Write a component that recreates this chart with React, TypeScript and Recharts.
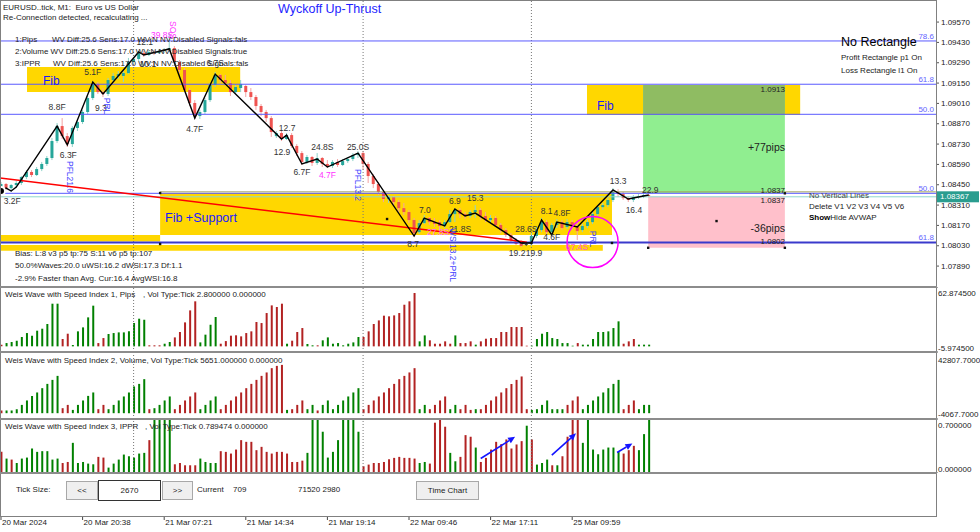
import React from 'react';
import { ComposedChart, Bar, Line, XAxis, YAxis, ReferenceLine, ReferenceArea, ReferenceDot, Cell } from 'recharts';

const FONT = '"Liberation Sans", Arial, sans-serif';

// ---------- price candles (tick bars, 2670 ticks) ----------
const candleOpen = [
  1.08427, 1.08455, 1.08427, 1.08448, 1.08462, 1.08503, 1.08538, 1.08517, 1.08558, 1.08593,
  1.08634, 1.08751, 1.08854, 1.08785, 1.0873, 1.08841, 1.08882, 1.08951, 1.09047, 1.09144,
  1.09088, 1.09075, 1.09171, 1.09199, 1.09199, 1.09219, 1.09295, 1.09316, 1.09357, 1.09343,
  1.09364, 1.09357, 1.09371, 1.09378, 1.09391, 1.09295, 1.0924, 1.09102, 1.09013, 1.08923,
  1.08951, 1.09033, 1.09137, 1.09206, 1.09171, 1.0915, 1.09088, 1.09116, 1.0913, 1.09088,
  1.09054, 1.08992, 1.08951, 1.08909, 1.08785, 1.08806, 1.08765, 1.08792, 1.08717, 1.08668,
  1.08607, 1.08641, 1.086, 1.08634, 1.08593, 1.08579, 1.08607, 1.08586, 1.08613, 1.08627,
  1.08655, 1.08668, 1.08593, 1.0851, 1.08455, 1.084, 1.08352, 1.08365, 1.08331, 1.08289,
  1.08262, 1.08207, 1.08124, 1.08186, 1.08221, 1.08193, 1.08193, 1.08166, 1.08193, 1.08248,
  1.08276, 1.08248, 1.08235, 1.08262, 1.08276, 1.08235, 1.08207, 1.08221, 1.08173, 1.08138,
  1.08104, 1.08069, 1.08049, 1.08042, 1.08042, 1.08097, 1.08138, 1.08193, 1.08124, 1.08173,
  1.08193, 1.08159, 1.08193, 1.08159, 1.08138, 1.08166, 1.08193, 1.08248, 1.08296, 1.0831,
  1.08345, 1.084, 1.08386, 1.08358, 1.08345, 1.08365, 1.08372, 1.08379,
];
const candleHigh = [
  1.08469, 1.08462, 1.08455, 1.08476, 1.0851, 1.08551, 1.08551, 1.08572, 1.08607, 1.08648,
  1.08772, 1.08875, 1.08909, 1.08806, 1.08854, 1.08896, 1.08965, 1.09061, 1.09164, 1.09157,
  1.09116, 1.09185, 1.09219, 1.09233, 1.0924, 1.09323, 1.0933, 1.09371, 1.09371, 1.09378,
  1.09378, 1.09385, 1.09391, 1.09495, 1.09405, 1.09309, 1.09254, 1.09116, 1.09033, 1.08965,
  1.09047, 1.0915, 1.09226, 1.09212, 1.09206, 1.09171, 1.09137, 1.09171, 1.09137, 1.09116,
  1.09068, 1.09006, 1.08965, 1.08923, 1.0882, 1.0882, 1.08806, 1.08806, 1.0873, 1.08682,
  1.08655, 1.08648, 1.08668, 1.08641, 1.0862, 1.0862, 1.08627, 1.08627, 1.08641, 1.08668,
  1.08682, 1.08682, 1.08607, 1.08524, 1.08469, 1.08414, 1.08379, 1.08372, 1.08345, 1.08324,
  1.08276, 1.08221, 1.08207, 1.08242, 1.08228, 1.08221, 1.08207, 1.08207, 1.08276, 1.08289,
  1.08289, 1.08262, 1.08276, 1.0831, 1.08289, 1.08262, 1.08242, 1.08235, 1.08186, 1.08152,
  1.08117, 1.08083, 1.08069, 1.08055, 1.08117, 1.08159, 1.08221, 1.08207, 1.08186, 1.08214,
  1.08207, 1.08214, 1.08207, 1.08193, 1.0818, 1.08207, 1.08262, 1.0831, 1.08324, 1.08358,
  1.08427, 1.0842, 1.084, 1.08372, 1.08379, 1.08386, 1.08393, 1.08393,
];
const candleLow = [
  1.084, 1.08414, 1.084, 1.08427, 1.08448, 1.08489, 1.08503, 1.0851, 1.08544, 1.08579,
  1.0862, 1.08737, 1.08765, 1.0871, 1.0871, 1.0882, 1.08868, 1.08937, 1.09033, 1.09075,
  1.09054, 1.09061, 1.09157, 1.09178, 1.09157, 1.09212, 1.09281, 1.09302, 1.0933, 1.09336,
  1.09343, 1.0935, 1.09357, 1.09364, 1.09281, 1.09219, 1.09088, 1.08992, 1.08903, 1.08903,
  1.08937, 1.0902, 1.09123, 1.0915, 1.0913, 1.09061, 1.09075, 1.09088, 1.09054, 1.09033,
  1.08965, 1.08923, 1.08882, 1.08779, 1.08772, 1.08751, 1.08758, 1.08703, 1.08648, 1.08586,
  1.08593, 1.08579, 1.08586, 1.08572, 1.08565, 1.08565, 1.08572, 1.08579, 1.086, 1.08613,
  1.08634, 1.08551, 1.08462, 1.08427, 1.08379, 1.08331, 1.08324, 1.0831, 1.08262, 1.08242,
  1.08186, 1.0809, 1.08111, 1.0818, 1.08173, 1.08159, 1.08138, 1.08152, 1.08186, 1.08193,
  1.08221, 1.08214, 1.08221, 1.08221, 1.08207, 1.08193, 1.08186, 1.08159, 1.08117, 1.0809,
  1.08049, 1.08035, 1.08021, 1.08028, 1.08028, 1.08083, 1.08124, 1.08111, 1.08097, 1.08152,
  1.08138, 1.08145, 1.08138, 1.08069, 1.08124, 1.08152, 1.0818, 1.08235, 1.08276, 1.08296,
  1.08331, 1.08365, 1.08345, 1.08331, 1.08331, 1.08352, 1.08358, 1.08365,
];
const candleClose = [
  1.08455, 1.08427, 1.08448, 1.08462, 1.08503, 1.08538, 1.08517, 1.08558, 1.08593, 1.08634,
  1.08751, 1.08854, 1.08785, 1.0873, 1.08841, 1.08882, 1.08951, 1.09047, 1.09144, 1.09088,
  1.09075, 1.09171, 1.09199, 1.09212, 1.09219, 1.09295, 1.09316, 1.09357, 1.09343, 1.09364,
  1.09357, 1.09371, 1.09378, 1.09391, 1.09295, 1.0924, 1.09102, 1.09013, 1.08923, 1.08951,
  1.09033, 1.09137, 1.09206, 1.09171, 1.0915, 1.09088, 1.09123, 1.09144, 1.09088, 1.09054,
  1.08992, 1.08951, 1.08909, 1.08813, 1.08806, 1.08765, 1.08792, 1.08717, 1.08668, 1.08607,
  1.08641, 1.086, 1.08634, 1.08593, 1.08579, 1.08607, 1.08586, 1.08613, 1.08627, 1.08655,
  1.08668, 1.08593, 1.0851, 1.08455, 1.084, 1.08352, 1.08365, 1.08331, 1.08289, 1.08262,
  1.08207, 1.08117, 1.08186, 1.08221, 1.08193, 1.0818, 1.08166, 1.08193, 1.08248, 1.08276,
  1.08248, 1.08235, 1.08262, 1.08276, 1.08235, 1.08207, 1.08221, 1.08173, 1.08138, 1.08104,
  1.08069, 1.08042, 1.08028, 1.08042, 1.08097, 1.08138, 1.08193, 1.08124, 1.08173, 1.08193,
  1.08152, 1.08193, 1.08159, 1.08131, 1.08166, 1.08193, 1.08248, 1.08296, 1.0831, 1.08345,
  1.084, 1.08386, 1.08358, 1.08345, 1.08365, 1.08372, 1.08379, 1.08372,
];

// ---------- zigzag pivots ----------
const zigIndex = [0, 1, 2, 3, 11, 13, 18, 20, 27, 28, 33, 38, 42, 55, 56, 59, 62, 64, 70, 81, 83, 87, 89, 91, 93, 102, 104, 106, 108, 109, 113, 120, 123, 127];
const zigPrice = [1.08407, 1.08427, 1.08407, 1.08434, 1.08854, 1.08724, 1.09157, 1.09075, 1.09364, 1.09343, 1.09385, 1.08909, 1.09212, 1.08765, 1.08792, 1.08593, 1.08627, 1.08572, 1.08668, 1.08097, 1.08221, 1.08166, 1.08283, 1.08235, 1.08255, 1.08049, 1.08049, 1.08207, 1.08104, 1.08193, 1.08159, 1.08414, 1.08352, 1.08379];

// ---------- Weis wave panels ----------
const pipsValues = [
  1.8, 3.5, 4.6, 6.0, 9.9, 14.1, 11.3, 16.6, 18.7, 23.7,
  45.2, 45.2, 7.8, 13.4, 1.4, 15.9, 20.1, 30.7, 43.1, 3.5,
  8.8, 13.1, 14.1, 14.8, 14.8, 15.9, 24.7, 29.3, 28.2, 1.1,
  1.1, 1.1, 2.8, 4.6, 9.5, 15.2, 25.4, 38.1, 47.7, 4.2,
  12.4, 22.9, 31.1, 2.8, 5.6, 11.3, 11.7, 10.6, 14.1, 15.9,
  25.8, 24.7, 35.3, 43.4, 41.7, 45.2, 2.8, 6.0, 15.2, 19.4,
  2.5, 1.1, 1.1, 6.4, 9.5, 2.8, 3.5, 1.1, 2.8, 4.2,
  9.9, 9.9, 15.9, 23.7, 27.5, 32.5, 31.8, 32.8, 35.3, 44.1,
  47.7, 56.5, 5.3, 11.6, 6.4, 2.8, 2.8, 5.3, 2.8, 11.6,
  3.5, 3.5, 5.3, 1.8, 5.3, 8.1, 8.8, 8.8, 15.2, 15.2,
  20.5, 20.5, 20.5, 0.7, 0.7, 7.8, 13.4, 15.2, 8.8, 7.8,
  3.5, 3.5, 0.7, 3.5, 1.8, 1.8, 7.8, 15.2, 15.2, 15.9,
  19.4, 26.5, 2.8, 5.3, 7.8, 1.8, 1.8, 1.8,
];
const pipsDirs = 'rggggggggg' + 'ggrrgggggr' + 'rggggggggr' + 'rrggrrrrrg' + 'gggrrrrrrr' + 'rrrrrrgrrr' + 'ggrggggggg' + 'grrrrrrrrr' + 'rrggrrrrrg' + 'rrrgrrrrrr' + 'rrrrgggggg' + 'gggrgggggg' + 'ggrrrggg';

const volumeValues = [
  1900, 1900, 1900, 2800, 5800, 8900, 12100, 14500, 17500, 20500,
  23300, 26100, 3500, 5800, 2300, 5800, 8900, 12100, 14500, 2800,
  5800, 2800, 5800, 8900, 11700, 14500, 18700, 20500, 23800, 2800,
  3500, 5800, 8900, 11700, 2800, 5800, 8900, 11700, 14500, 2800,
  5800, 8900, 11700, 2800, 5800, 8900, 11700, 14500, 17500, 20500,
  23300, 26100, 28500, 31500, 33100, 33800, 2300, 2800, 5800, 8900,
  2800, 5800, 1900, 5800, 8900, 2800, 5800, 8900, 11700, 14500,
  17500, 2800, 5800, 8900, 11700, 14500, 17500, 20500, 23800, 26100,
  28500, 31500, 2800, 5800, 2800, 5800, 8900, 11700, 2800, 5800,
  2800, 5800, 2300, 2800, 2800, 5800, 8900, 11700, 14500, 17500,
  20500, 23300, 25700, 2800, 2300, 2800, 5800, 8900, 2800, 2800,
  2800, 5800, 8900, 11700, 2800, 5800, 8900, 11700, 14500, 17500,
  20500, 23300, 2800, 5800, 8900, 2800, 5800, 5800,
];
const volumeDirs = 'rggggggggg' + 'ggrrgggggr' + 'rggggggggr' + 'ggggrrrrrg' + 'gggrrrrrrr' + 'rrrrrrgrrr' + 'ggrggggggg' + 'grrrrrrrrr' + 'rrggrrrrgg' + 'rrrgrrrrrr' + 'rrrrgggggg' + 'grrrgggggg' + 'ggrrrggg';

const ipprValues = [
  0.274, 0.187, 0.174, 0.13, 0.187, 0.2, 0.317, 0.274, 0.283, 0.283,
  0.174, 0.187, 0.13, 0.143, 0.391, 0.13, 0.143, 0.122, 0.113, 0.209,
  0.2, 0.07, 0.122, 0.174, 0.239, 0.217, 0.2, 0.252, 0.261, 0.426,
  0.85, 0.9, 0.9, 0.85, 0.113, 0.13, 0.1, 0.1, 0.1, 0.187,
  0.143, 0.13, 0.13, 0.283, 0.274, 0.252, 0.304, 0.426, 0.404, 0.404,
  0.296, 0.339, 0.274, 0.252, 0.274, 0.274, 0.252, 0.143, 0.143, 0.16,
  0.261, 0.9, 0.9, 0.535, 0.2, 0.274, 0.426, 0.9, 0.9, 0.9,
  0.535, 0.087, 0.109, 0.13, 0.13, 0.143, 0.178, 0.196, 0.209, 0.196,
  0.196, 0.187, 0.13, 0.143, 0.122, 0.652, 0.75, 0.6, 0.261, 0.152,
  0.209, 0.491, 0.47, 0.33, 0.143, 0.196, 0.304, 0.404, 0.374, 0.435,
  0.317, 0.37, 0.413, 0.613, 0.435, 0.109, 0.13, 0.174, 0.1, 0.1,
  0.217, 0.47, 0.8, 0.8, 0.391, 0.75, 0.304, 0.243, 0.304, 0.33,
  0.33, 0.274, 0.252, 0.296, 0.352, 0.296, 0.504, 0.75,
];
const ipprDirs = 'rgrggggggg' + 'ggrrgggggr' + 'rggggggggr' + 'ggggrrrrrg' + 'gggrrrrrrr' + 'rrrrrrrrrr' + 'gggggggggg' + 'grrrrrrrrr' + 'rrggrrrrgg' + 'rrrgrrrrrr' + 'rrrgrgggrg' + 'rrrrgggggg' + 'ggrrrggg';

// ---------- axes ----------
const X_DOMAIN: [number, number] = [-0.196, 183.333];
const PRICE_DOMAIN: [number, number] = [1.07746, 1.09722];
const priceTicks = [1.0957, 1.0943, 1.0929, 1.0915, 1.0901, 1.0887, 1.0873, 1.0859, 1.0845, 1.0831, 1.0817, 1.0803, 1.0789];
const timeTickIndex = [0, 16, 32, 48, 64, 80, 96, 112];
const timeTickLabels = ['20 Mar 2024', '20 Mar 20:38', '21 Mar 07:21', '21 Mar 14:34', '21 Mar 19:14', '22 Mar 09:46', '22 Mar 17:11', '25 Mar 09:59'];
const verticalLineIndex = [26, 71, 104];
const pipsDomain: [number, number] = [-5.9745, 62.8745];
const volumeDomain: [number, number] = [-4067.7, 42807.7];
const ipprDomain: [number, number] = [0, 0.7];

// ---------- objects on price chart ----------
const fibLevels = [1.0944, 1.09142, 1.08935, 1.08391, 1.08053];
const fibNames = ['78.6', '61.8', '50.0', '50.0', '61.8'];
const currentPrice = 1.08367;
const YELLOW = '#ffd700';
const zones = [
  { x1: 5.1, x2: 46.9, y1: 1.09088, y2: 1.09261, fill: YELLOW },
  { x1: 31.2, x2: 119.8, y1: 1.08104, y2: 1.08393, fill: YELLOW },
  { x1: -0.196, x2: 31.2, y1: 1.08059, y2: 1.08104, fill: YELLOW },
  { x1: -0.196, x2: 118, y1: 1.07996, y2: 1.08035, fill: YELLOW },
  { x1: 114.9, x2: 156.7, y1: 1.0893, y2: 1.09137, fill: YELLOW },
  { x1: 125.9, x2: 153.7, y1: 1.08393, y2: 1.09137, fill: '#90ee90' },
  { x1: 125.9, x2: 153.7, y1: 1.0893, y2: 1.09137, fill: '#8fbc62' },
  { x1: 126.9, x2: 153.7, y1: 1.08016, y2: 1.08367, fill: '#ffc0cb' },
];
const blackDots = [
  { i: 31.2, p: 1.08393 }, { i: 31.2, p: 1.08042 }, { i: 119.8, p: 1.08049 }, { i: 126.9, p: 1.08016 },
  { i: 153.7, p: 1.08016 }, { i: 140.3, p: 1.082 }, { i: 153.7, p: 1.08391 }, { i: 75.7, p: 1.08214 },
  { i: 102.4, p: 1.08049 }, { i: 104, p: 1.08049 },
];
const trendFrom = { i: -0.19, p: 1.08496 };
const trendTo = { i: 103.1, p: 1.08055 };
const circleAt = { i: 116, p: 1.08055, r: 25.5 };

const MAG = '#ff33ff';
const BLUE = '#4646ff';
const waveLabels = [
  { t: '3.2F', i: 2.2, p: 1.08338 }, { t: '8.8F', i: 11, p: 1.08985 }, { t: '6.3F', i: 13.2, p: 1.08655 },
  { t: '5.1F', i: 18, p: 1.09226 }, { t: '9.3', i: 19.6, p: 1.08978 }, { t: '12.1', i: 28.2, p: 1.09433 },
  { t: '10.1', i: 28.8, p: 1.09281 }, { t: '39.8S', i: 31.6, p: 1.09481, c: MAG }, { t: '6.7S', i: 42, p: 1.09288 },
  { t: '4.7F', i: 38, p: 1.08834 }, { t: '12.7', i: 56.1, p: 1.08841 }, { t: '12.9', i: 55.1, p: 1.08675 },
  { t: '24.8S', i: 63, p: 1.0871 }, { t: '6.7F', i: 59, p: 1.08538 }, { t: '4.7F', i: 64, p: 1.08517, c: MAG },
  { t: '25.0S', i: 70, p: 1.0871 }, { t: '7.0', i: 83.1, p: 1.08276 }, { t: '6.9', i: 89, p: 1.08338 },
  { t: '15.3', i: 93, p: 1.08358 }, { t: '8.7', i: 80.8, p: 1.08042 }, { t: '27.8S', i: 85.7, p: 1.08124, c: '#ff6cff' },
  { t: '21.8S', i: 90, p: 1.08145 }, { t: '28.6S', i: 103, p: 1.08145 }, { t: '19.2', i: 101.2, p: 1.0798 },
  { t: '19.9', i: 104.5, p: 1.0798 }, { t: '8.1', i: 107, p: 1.08269 }, { t: '4.8F', i: 110, p: 1.08255 },
  { t: '4.6F', i: 108, p: 1.0809 }, { t: '67.4S', i: 112.9, p: 1.08023, c: '#ff5fc8' }, { t: '13.3', i: 121, p: 1.08476 },
  { t: '16.4', i: 124.1, p: 1.08276 }, { t: '22.9', i: 127.3, p: 1.08414 },
  { t: 'PFL21.6', i: 13.5, p: 1.08503, c: BLUE, rot: true }, { t: 'PRL', i: 20.8, p: 1.08992, c: BLUE, rot: true },
  { t: 'SOS', i: 33.7, p: 1.09515, c: MAG, rot: true }, { t: 'PFL13.2', i: 70, p: 1.08448, c: BLUE, rot: true },
  { t: 'WS 13.2+PRL', i: 88.6, p: 1.07966, c: BLUE, rot: true }, { t: 'PRL', i: 116.1, p: 1.08076, c: BLUE, rot: true },
];
const ipprArrows = [
  { x1: 94.06, y1: 0.188, x2: 100.8, y2: 0.469 },
  { x1: 108, y1: 0.231, x2: 112.75, y2: 0.514 },
  { x1: 120.8, y1: 0.266, x2: 123.8, y2: 0.383 },
];

// ---------- tables ----------
const candleData = candleOpen.map((o, i) => {
  const z = zigIndex.indexOf(i);
  return { i, o, h: candleHigh[i], l: candleLow[i], c: candleClose[i], zig: z >= 0 ? zigPrice[z] : null };
});
const toPanel = (vals: number[], dirs: string) => vals.map((v, i) => ({ i, v, up: dirs[i] === 'g' }));
const pipsData = toPanel(pipsValues, pipsDirs);
const volumeData = toPanel(volumeValues, volumeDirs);
const ipprData = toPanel(ipprValues, ipprDirs);
const timeData = timeTickIndex.map((i) => ({ i }));

const GREEN = '#008000';
const RED = '#b22222';

const Candle = (props: any) => {
  const { x, y, width, height, payload } = props;
  if (x == null || !payload) return null;
  const { o, h, l, c } = payload;
  const top = Math.min(y, y + height);
  const hh = Math.abs(height);
  const k = h - l > 0 ? hh / (h - l) : 0;
  const cx = x + width / 2;
  const bTop = top + (h - Math.max(o, c)) * k;
  const bBot = top + (h - Math.min(o, c)) * k;
  const flat = c === o;
  const up = c > o;
  const body = flat ? '#444' : up ? '#26a69a' : '#ef5350';
  const wick = flat ? '#444' : up ? '#8fd3c9' : '#f4a3a3';
  return (
    <g>
      <line x1={cx} x2={cx} y1={top} y2={top + hh} stroke={wick} strokeWidth={1} />
      <rect x={cx - 1.5} y={bTop} width={3} height={Math.max(1, bBot - bTop)} fill={body} />
    </g>
  );
};

const PriceTick = (p: any) => (
  <text x={p.x} y={p.y} dominantBaseline="central" fontSize={8} fill="#222" fontFamily={FONT}>
    {Number(p.payload.value).toFixed(5)}
  </text>
);

const makePanelTick = (top: number, digits: number, topDy: number, botDy: number) => (p: any) => {
  const v = Number(p.payload.value);
  const dy = v === top ? topDy : botDy;
  return (
    <g>
      <line x1={936} x2={938} y1={p.y} y2={p.y} stroke="#555" />
      <text x={938} y={p.y + dy} dominantBaseline="central" fontSize={8} fill="#222" fontFamily={FONT}>
        {v.toFixed(digits)}
      </text>
    </g>
  );
};

const TimeTick = (p: any) => {
  const k = timeTickIndex.indexOf(Number(p.payload.value));
  return (
    <text x={p.x + 1} y={p.y} dominantBaseline="central" fontSize={8} fill="#222" fontFamily={FONT}>
      {k >= 0 ? timeTickLabels[k] : ''}
    </text>
  );
};

const dottedLines = (key: string) =>
  verticalLineIndex.map((v) => (
    <ReferenceLine key={key + v} x={v} stroke="#777" strokeDasharray="1 2" ifOverflow="visible" />
  ));

const Arrow = (p: any) => {
  const { x1, y1, x2, y2 } = p;
  if ([x1, y1, x2, y2].some((n) => n == null || isNaN(n))) return null;
  const a = Math.atan2(y2 - y1, x2 - x1);
  const L = 7, W = 3.2;
  const bx = x2 - L * Math.cos(a), by = y2 - L * Math.sin(a);
  const pts = `${x2},${y2} ${bx + W * Math.sin(a)},${by - W * Math.cos(a)} ${bx - W * Math.sin(a)},${by + W * Math.cos(a)}`;
  return (
    <g>
      <line x1={x1} y1={y1} x2={bx} y2={by} stroke="#1414ff" strokeWidth={1.6} />
      <polygon points={pts} fill="#1414ff" />
    </g>
  );
};

function WavePanel({ data, domain, height, digits, topDy, botDy, children }: any) {
  return (
    <ComposedChart width={980} height={height} data={data} margin={{ top: 0, right: 0, bottom: 0, left: 0 }}>
      <XAxis type="number" dataKey="i" domain={X_DOMAIN} allowDataOverflow hide />
      <YAxis
        orientation="right"
        width={44}
        domain={domain}
        ticks={[domain[1], domain[0]]}
        allowDataOverflow
        interval={0}
        axisLine={false}
        tickLine={false}
        tick={makePanelTick(domain[1], digits, topDy, botDy)}
      />
      {dottedLines('p')}
      <Bar dataKey="v" barSize={2} isAnimationActive={false}>
        {data.map((d: any, k: number) => (
          <Cell key={k} fill={d.up ? GREEN : RED} />
        ))}
      </Bar>
      {children}
    </ComposedChart>
  );
}

const Txt = ({ x, y, s = 8, c = '#222', w = 400, right = false, children }: any) => (
  <div
    style={{
      position: 'absolute', left: x, top: y - s * 0.6, fontSize: s, lineHeight: `${s * 1.2}px`, color: c,
      fontWeight: w, whiteSpace: 'pre', transform: right ? 'translateX(-100%)' : undefined, fontFamily: FONT,
    }}
  >
    {children}
  </div>
);

const Btn = ({ x, y, w, h, dark = false, children }: any) => (
  <div
    style={{
      position: 'absolute', left: x, top: y, width: w, height: h, boxSizing: 'border-box',
      border: dark ? '1px solid #333' : '1px solid #a8a8a8', background: dark ? '#fff' : '#efefef',
      fontSize: 8, display: 'flex', alignItems: 'center', justifyContent: 'center', fontFamily: FONT, color: '#222',
    }}
  >
    {children}
  </div>
);

export default function App() {
  return (
    <div style={{ position: 'fixed', left: 0, top: 0, width: 980, height: 532, background: '#fff', overflow: 'hidden', fontFamily: FONT }}>
      {/* main price chart */}
      <div style={{ position: 'absolute', left: 0, top: 0 }}>
        <ComposedChart width={980} height={287} data={candleData} margin={{ top: 0, right: 0, bottom: 0, left: 0 }}>
          <XAxis type="number" dataKey="i" domain={X_DOMAIN} allowDataOverflow hide />
          <YAxis
            orientation="right"
            width={44}
            domain={PRICE_DOMAIN}
            ticks={priceTicks}
            allowDataOverflow
            interval={0}
            axisLine={false}
            tickLine={{ stroke: '#555' }}
            tickSize={3}
            tick={PriceTick}
          />
          {zones.map((z, k) => (
            <ReferenceArea key={'z' + k} x1={z.x1} x2={z.x2} y1={z.y1} y2={z.y2} fill={z.fill} fillOpacity={1} stroke="none" ifOverflow="visible" />
          ))}
          {dottedLines('m')}
          <Bar dataKey={(d: any) => [d.l, d.h]} barSize={5} shape={Candle} isAnimationActive={false} />
          <ReferenceLine segment={[{ x: 31.2, y: 1.08401 }, { x: 183.3, y: 1.08401 }]} stroke="#a3a35a" strokeWidth={1} ifOverflow="visible" />
          {fibLevels.map((f, k) => (
            <ReferenceLine
              key={'f' + k}
              y={f}
              stroke={k === 4 ? '#3a3acc' : '#5a5aff'}
              strokeWidth={k === 4 ? 2 : 1}
              ifOverflow="visible"
              label={{ value: fibNames[k], position: 'insideBottomRight', fill: '#6464ff', fontSize: 8, offset: 2 }}
            />
          ))}
          <ReferenceLine
            y={currentPrice}
            stroke="#8ed8cc"
            strokeWidth={1}
            ifOverflow="visible"
            label={(p: any) => {
              const vb = p.viewBox || {};
              const rx = (vb.x || 0) + (vb.width || 0) + 1;
              return (
                <g>
                  <rect x={rx} y={vb.y - 5.5} width={42} height={11} fill="#2a9d8f" />
                  <text x={rx + 3} y={vb.y} dominantBaseline="central" fontSize={8} fill="#fff" fontFamily={FONT}>
                    {currentPrice.toFixed(5)}
                  </text>
                </g>
              );
            }}
          />
          <ReferenceLine
            segment={[{ x: trendFrom.i, y: trendFrom.p }, { x: trendTo.i, y: trendTo.p }]}
            stroke="#ff0000"
            strokeWidth={1.5}
            ifOverflow="visible"
          />
          <Line dataKey="zig" connectNulls stroke="#000" strokeWidth={1.4} dot={false} isAnimationActive={false} />
          <ReferenceDot x={circleAt.i} y={circleAt.p} r={circleAt.r} fill="none" stroke="#ff00ff" strokeWidth={1.5} ifOverflow="visible" />
          {blackDots.map((d, k) => (
            <ReferenceDot
              key={'d' + k}
              x={d.i}
              y={d.p}
              r={1.2}
              ifOverflow="visible"
              shape={(p: any) => <rect x={p.cx - 1.2} y={p.cy - 1.2} width={2.4} height={2.4} fill="#111" />}
            />
          ))}
          {waveLabels.map((lb: any, k) => (
            <ReferenceDot
              key={'l' + k}
              x={lb.i}
              y={lb.p}
              r={1}
              ifOverflow="visible"
              shape={(p: any) => (
                <text
                  x={p.cx}
                  y={p.cy}
                  textAnchor="middle"
                  dominantBaseline="central"
                  fontSize={8.5}
                  fill={lb.c || '#333'}
                  fontFamily={FONT}
                  transform={lb.rot ? `rotate(90 ${p.cx} ${p.cy})` : undefined}
                >
                  {lb.t}
                </text>
              )}
            />
          ))}
        </ComposedChart>
      </div>

      {/* indicator panels */}
      <div style={{ position: 'absolute', left: 0, top: 287 }}>
        <WavePanel data={pipsData} domain={pipsDomain} height={65} digits={6} topDy={6} botDy={-4} />
      </div>
      <div style={{ position: 'absolute', left: 0, top: 352 }}>
        <WavePanel data={volumeData} domain={volumeDomain} height={67} digits={4} topDy={8} botDy={-5} />
      </div>
      <div style={{ position: 'absolute', left: 0, top: 419 }}>
        <WavePanel data={ipprData} domain={ipprDomain} height={54} digits={6} topDy={6} botDy={-4}>
          {ipprArrows.map((a, k) => (
            <ReferenceLine key={'a' + k} segment={[{ x: a.x1, y: a.y1 }, { x: a.x2, y: a.y2 }]} ifOverflow="visible" shape={Arrow} />
          ))}
        </WavePanel>
      </div>

      {/* bottom strip + time axis */}
      <div style={{ position: 'absolute', left: 0, top: 473 }}>
        <ComposedChart width={980} height={59} data={timeData} margin={{ top: 0, right: 0, bottom: 0, left: 0 }}>
          <XAxis
            type="number"
            dataKey="i"
            domain={X_DOMAIN}
            allowDataOverflow
            ticks={timeTickIndex}
            interval={0}
            height={15}
            axisLine={false}
            tickLine={{ stroke: '#444' }}
            tickSize={3}
            tick={TimeTick}
          />
          <YAxis orientation="right" width={44} domain={[0, 1]} tick={false} axisLine={false} tickLine={false} />
          {dottedLines('b')}
        </ComposedChart>
      </div>

      {/* frames */}
      <div style={{ position: 'absolute', left: 0, top: 0, width: 937, height: 517, border: '1px solid #808080', boxSizing: 'border-box', pointerEvents: 'none' }} />
      {[286, 351, 418, 472].map((y) => (
        <div key={y} style={{ position: 'absolute', left: 0, top: y, width: 937, height: 2, background: '#8c8c8c' }} />
      ))}

      {/* texts on price chart */}
      <Txt x={3} y={8}>EURUSD..tick, M1:  Euro vs US Dollar</Txt>
      <Txt x={3} y={18}>Re-Connection detected, recalculating ...</Txt>
      <Txt x={278} y={9} s={12.5} c="#1e1eff">Wyckoff Up-Thrust</Txt>
      <Txt x={15} y={40}>1:Pips</Txt>
      <Txt x={52} y={40}>WV Diff:25.6 Sens:17.0 WV:N NV:Disabled Signals:fals</Txt>
      <Txt x={15} y={52}>2:Volume WV Diff:25.6 Sens:17.0 WV:N NV:Disabled Signals:true</Txt>
      <Txt x={15} y={64}>3:IPPR</Txt>
      <Txt x={53} y={64}>WV Diff:25.6 Sens:17.0 WV:N NV:Disabled Signals:fals</Txt>
      <Txt x={43} y={81} s={12} c="#1a1aff">Fib</Txt>
      <Txt x={165} y={218} s={12.5} c="#1a1aff">Fib +Support</Txt>
      <Txt x={597} y={106} s={12} c="#1a1aff">Fib</Txt>
      <Txt x={785} y={90} right>1.0913</Txt>
      <Txt x={785} y={147} s={10.5} right>+77pips</Txt>
      <Txt x={785} y={191} right>1.0837</Txt>
      <Txt x={785} y={201} right>1.0837</Txt>
      <Txt x={785} y={228} s={10.5} right>-36pips</Txt>
      <Txt x={785} y={242} right>1.0802</Txt>
      <Txt x={15} y={254}>Bias: L:8 v3 p5 tp:75 S:11 v6 p5 tp:107</Txt>
      <Txt x={15} y={266}>50.0%Waves:20.0 uWSI:16.2 dWSI:17.3 Df:1.1</Txt>
      <Txt x={15} y={279}>-2.9% Faster than Avg. Cur:16.4 AvgWSI:16.8</Txt>
      <Txt x={841} y={42} s={12.5} c="#000">No Rectangle</Txt>
      <Txt x={841} y={58}>Profit Rectangle p1 On</Txt>
      <Txt x={841} y={71}>Loss Rectangle l1 On</Txt>
      <Txt x={809} y={196} c="#444">No Vertical Lines</Txt>
      <Txt x={809} y={207}>Delete V1 V2 V3 V4 V5 V6</Txt>
      <Txt x={809} y={218}><b style={{ color: '#000' }}>Show</b>Hide AVWAP</Txt>

      {/* panel titles */}
      <Txt x={5} y={295}>Weis Wave with Speed Index 1, Pips</Txt>
      <Txt x={143} y={295}>, Vol Type:Tick 2.800000 0.000000</Txt>
      <Txt x={5} y={361}>Weis Wave with Speed Index 2, Volume, Vol Type:Tick 5651.000000 0.000000</Txt>
      <Txt x={5} y={427}>Weis Wave with Speed Index 3, IPPR</Txt>
      <Txt x={145} y={427}>, Vol Type:Tick 0.789474 0.000000</Txt>

      {/* bottom controls */}
      <Txt x={16} y={490}>Tick Size:</Txt>
      <Btn x={66} y={481} w={32} h={19}>{'<<'}</Btn>
      <Btn x={98} y={480} w={63} h={21} dark>2670</Btn>
      <Btn x={162} y={481} w={31} h={19}>{'>>'}</Btn>
      <Txt x={197} y={490}>Current</Txt>
      <Txt x={233} y={490}>709</Txt>
      <Txt x={298} y={490}>71520 2980</Txt>
      <Btn x={416} y={481} w={63} h={19}>Time Chart</Btn>
    </div>
  );
}
